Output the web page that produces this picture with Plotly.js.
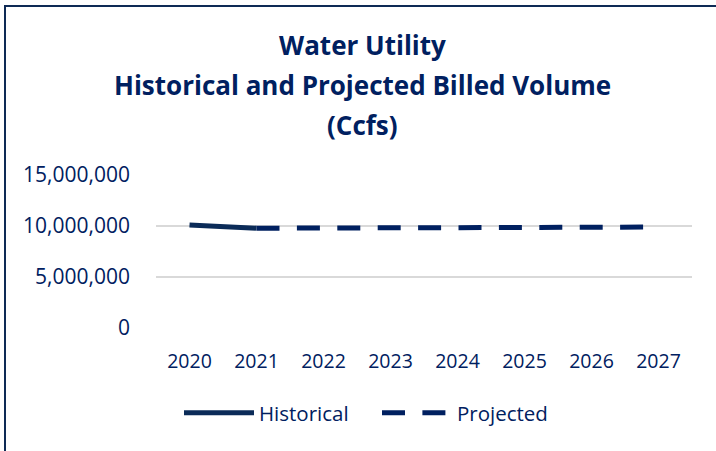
<!DOCTYPE html>
<html>
<head>
<meta charset="utf-8">
<script src="https://cdn.plot.ly/plotly-3.0.1.min.js"></script>
<style>
  html, body { margin: 0; padding: 0; background: #ffffff; }
  #wrap { position: relative; width: 716px; height: 451px; overflow: hidden; }
  #chart { position: absolute; left: 0; top: 0; width: 716px; height: 451px; }
  #frame { position: absolute; left: 4px; top: 5px; width: 800px; height: 800px;
           border-left: 2px solid #0E2A55; border-top: 2px solid #0E2A55; pointer-events: none; }
</style>
</head>
<body>
<div id="wrap">
  <div id="chart"></div>
  <div id="frame"></div>
</div>
<script>
const years = ['2020', '2021', '2022', '2023', '2024', '2025', '2026', '2027'];
const historical = [10100000, 9780000, null, null, null, null, null, null];
const projected = [null, 9780000, 9820000, 9850000, 9870000, 9880000, 9890000, 9900000];
const yTicks = [0, 5000000, 10000000, 15000000];
const yTickText = ['0', '5,000,000', '10,000,000', '15,000,000'];
const titleLines = ['Water Utility', 'Historical and Projected Billed Volume', '(Ccfs)'];

const navy = '#002060';
const font = '"Open Sans", Lato, sans-serif';

const traces = [
  {
    x: years, y: historical, name: 'Historical', type: 'scatter', mode: 'lines',
    line: { color: '#0B2B58', width: 5 }, connectgaps: false
  },
  {
    x: years, y: projected, name: 'Projected', type: 'scatter', mode: 'lines',
    line: { color: navy, width: 5, dash: '23px,17.4px' }, connectgaps: false
  }
];

const titleY = [45, 85, 125];
const annotations = titleLines.map((t, i) => ({
  text: '<b>' + t + '</b>', xref: 'paper', yref: 'paper',
  x: (362 - 156) / 536, y: (328 - titleY[i]) / 153,
  xanchor: 'center', yanchor: 'middle', showarrow: false,
  font: { family: font, size: 26, color: navy }
}));

const layout = {
  width: 716, height: 451,
  margin: { l: 156, r: 24, t: 175, b: 123, pad: 0 },
  paper_bgcolor: 'rgba(0,0,0,0)', plot_bgcolor: 'rgba(0,0,0,0)',
  font: { family: font, size: 20, color: navy },
  showlegend: true,
  legend: {
    orientation: 'h', x: (377 - 156) / 536, xanchor: 'center',
    y: (328 - 413) / 153, yanchor: 'middle',
    itemwidth: 70, entrywidth: 113,
    font: { family: font, size: 20.5, color: navy },
    bgcolor: 'rgba(0,0,0,0)', traceorder: 'normal'
  },
  xaxis: {
    type: 'category', range: [-0.5, 7.5], showgrid: false, zeroline: false,
    showline: false, ticks: '', ticklabelstandoff: 19,
    tickfont: { family: font, size: 19.5, color: navy }, fixedrange: true
  },
  yaxis: {
    range: [0, 15000000], tickvals: yTicks, ticktext: yTickText,
    showgrid: true, gridcolor: '#D9D9D9', gridwidth: 1.5, zeroline: false,
    showline: false, ticks: '', ticklabelstandoff: 25,
    tickfont: { family: font, size: 21, color: navy }, fixedrange: true
  },
  annotations: annotations
};

Plotly.newPlot('chart', traces, layout, { staticPlot: true, displayModeBar: false });
</script>
</body>
</html>
